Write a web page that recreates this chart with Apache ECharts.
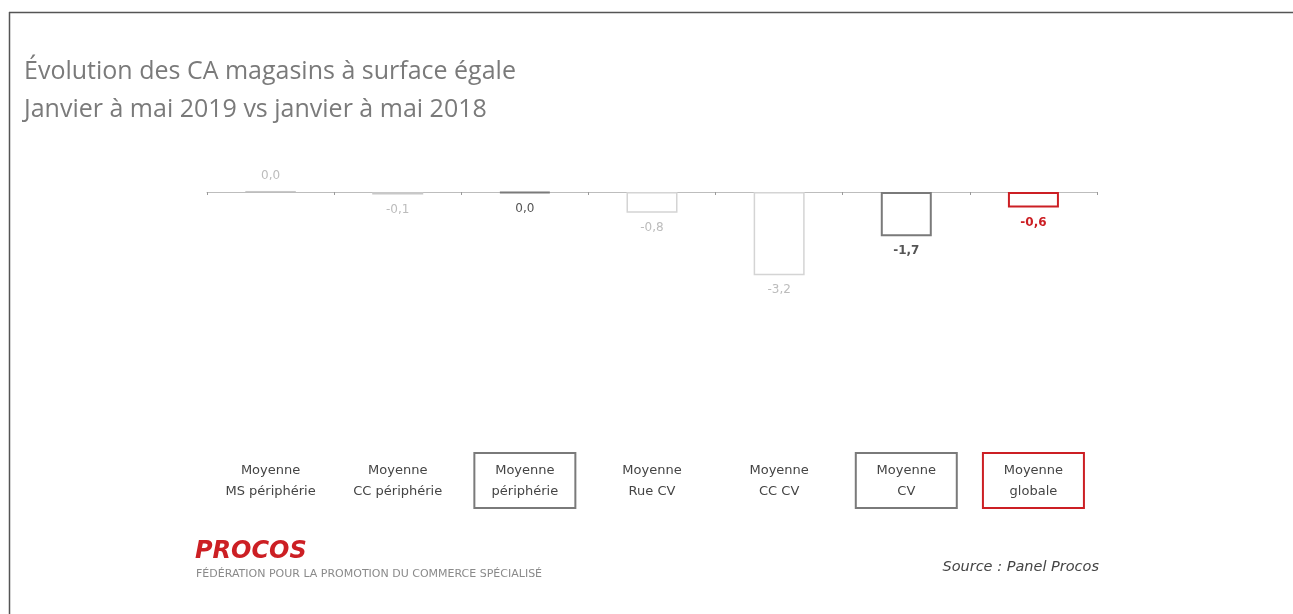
<!DOCTYPE html>
<html><head><meta charset="utf-8">
<script src="https://cdn.jsdelivr.net/npm/echarts@6/dist/echarts.min.js"></script>
<style>html,body{margin:0;padding:0;background:#fff}#c{width:1293px;height:614px}</style>
</head><body><div id="c"></div>
<script>
var categories = ["Moyenne\nMS périphérie","Moyenne\nCC périphérie","Moyenne\npériphérie","Moyenne\nRue CV","Moyenne\nCC CV","Moyenne\nCV","Moyenne\nglobale"];
var values = [0.04, -0.1, -0.04, -0.8, -3.2, -1.7, -0.6];
var barColors = ["#c8c8c8","#c8c8c8","#7a7a7a","#d4d4d4","#d4d4d4","#7a7a7a","#cc1f24"];
var barBorders = [1, 1.5, 2, 1.5, 1.5, 2, 2];
var labelColors = ["#bcbcbc","#bcbcbc","#555555","#bcbcbc","#bcbcbc","#555555","#cc1f24"];
var labelWeights = ["normal","normal","normal","normal","normal","bold","bold"];
var boxed = [false,false,true,false,false,true,true];
var boxColors = [null,null,"#7a7a7a",null,null,"#7a7a7a","#cc1f24"];

var fmt = function(v){ return (Math.round(v*10)/10).toFixed(1).replace('.', ','); };

var barData = values.map(function(v,i){
  return {
    value: v,
    itemStyle: {color:'#ffffff', borderColor: barColors[i], borderWidth: barBorders[i]},
    label: {position: v > 0 ? 'top' : 'bottom', color: labelColors[i], fontWeight: labelWeights[i]}
  };
});
var bottomCats = categories.map(function(c,i){
  var ts = {};
  if (boxed[i]) { ts.borderColor = boxColors[i]; ts.borderWidth = 2; }
  return {value: c, textStyle: ts};
});

var chart = echarts.init(document.getElementById('c'), null, {renderer:'canvas'});
chart.setOption({
  animation: false,
  backgroundColor: '#ffffff',
  grid: {left: 207, right: 196, top: 166, height: 130},
  xAxis: [{
    type: 'category', data: categories, position: 'bottom',
    axisLine: {onZero: true, lineStyle: {color: '#bdbdbd', width: 1}},
    axisTick: {show: true, length: 3, lineStyle: {color: '#9a9a9a'}},
    axisLabel: {show: false}
  }, {
    type: 'category', data: bottomCats, position: 'bottom',
    axisLine: {show: false}, axisTick: {show: false},
    axisLabel: {
      interval: 0, margin: 157, color: '#444444',
      fontFamily: 'DejaVu Sans', fontSize: 13, lineHeight: 21,
      width: 97, align: 'center', padding: [7, 2, 6, 2],
      borderColor: 'transparent', borderWidth: 0
    }
  }],
  yAxis: {type: 'value', min: -4, max: 1, show: false, splitLine: {show: false}},
  series: [{
    type: 'bar', data: barData, barWidth: 51, xAxisIndex: 0,
    label: {show: true, distance: 9, fontFamily: 'DejaVu Sans', fontSize: 12,
      formatter: function(p){ return fmt(p.value); }}
  }],
  graphic: [
    {type:'line', shape:{x1:9, y1:12.5, x2:1293, y2:12.5}, style:{stroke:'#555', lineWidth:1.5}},
    {type:'line', shape:{x1:9.5, y1:12, x2:9.5, y2:614}, style:{stroke:'#555', lineWidth:1.5}},
    {type:'text', left: 24, top: 59, style:{text:'Évolution des CA magasins à surface égale', fill:'#7a7a7a', font:'25px "Open Sans"'}},
    {type:'text', left: 24, top: 97, style:{text:'Janvier à mai 2019 vs janvier à mai 2018', fill:'#7a7a7a', font:'25px "Open Sans"'}},
    {type:'text', left: 195, top: 540, style:{text:'PROCOS', fill:'#cc1f24', font:'italic 900 24px "DejaVu Sans"'}},
    {type:'text', left: 196, top: 569, style:{text:'FÉDÉRATION POUR LA PROMOTION DU COMMERCE SPÉCIALISÉ', fill:'#8a8a8a', font:'11px "DejaVu Sans"'}},
    {type:'text', right: 194, top: 560, style:{text:'Source : Panel Procos', fill:'#444', font:'italic 14.5px "DejaVu Sans"'}}
  ]
});
</script></body></html>
